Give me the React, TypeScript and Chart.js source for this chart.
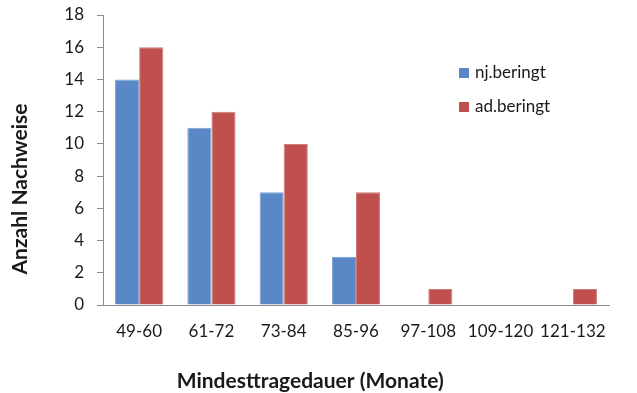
import React, { useEffect, useRef } from "react";
import { Chart, registerables } from "chart.js";

Chart.register(...registerables);

const categories = ["49-60", "61-72", "73-84", "85-96", "97-108", "109-120", "121-132"];
const njBeringt = [14, 11, 7, 3, 0, 0, 0];
const adBeringt = [16, 12, 10, 7, 1, 0, 1];
const seriesNames = ["nj.beringt", "ad.beringt"];
const yTitle = "Anzahl Nachweise";
const xTitle = "Mindesttragedauer (Monate)";

const FONT = "Lato, 'Open Sans', sans-serif";
const AXIS_GREY = "#8c8c8c";
const TEXT = "#1a1a1a";

// Axis titles and a vertical legend placed like an office chart
const decorations = {
  id: "decorations",
  afterDraw(chart: any) {
    const { ctx, width } = chart;
    ctx.save();
    ctx.fillStyle = TEXT;
    ctx.font = `bold 21px ${FONT}`;
    ctx.textAlign = "center";
    ctx.textBaseline = "middle";
    ctx.fillText(xTitle, width * 0.487, 381);

    ctx.translate(20, 189);
    ctx.rotate(-Math.PI / 2);
    ctx.fillText(yTitle, 0, 0);
    ctx.restore();

    ctx.save();
    ctx.font = `17px ${FONT}`;
    ctx.textBaseline = "middle";
    ctx.textAlign = "left";
    chart.data.datasets.forEach((ds: any, i: number) => {
      const cy = 73 + i * 34;
      ctx.fillStyle = ds.backgroundColor;
      ctx.fillRect(459, cy - 5, 10, 10);
      ctx.fillStyle = TEXT;
      ctx.fillText(ds.label, 475, cy);
    });
    ctx.restore();
  },
};

export default function App() {
  const ref = useRef<HTMLCanvasElement>(null);

  useEffect(() => {
    if (!ref.current) return;
    const chart = new Chart(ref.current, {
      type: "bar",
      data: {
        labels: categories,
        datasets: [
          {
            label: seriesNames[0],
            data: njBeringt,
            backgroundColor: "#5A87C5",
            borderColor: "#7C9FD2",
            borderWidth: 1,
          },
          {
            label: seriesNames[1],
            data: adBeringt,
            backgroundColor: "#C0504D",
            borderColor: "#D07A78",
            borderWidth: 1,
          },
        ],
      },
      options: {
        responsive: false,
        animation: false,
        layout: { padding: { top: 15, right: 28, left: 0, bottom: 0 } },
        plugins: {
          legend: { display: false },
          tooltip: { enabled: false },
        },
        datasets: {
          bar: { categoryPercentage: 0.667, barPercentage: 1.0 },
        },
        scales: {
          x: {
            grid: { display: false },
            border: { display: true, color: AXIS_GREY, width: 1 },
            ticks: {
              color: TEXT,
              font: { family: FONT, size: 17 },
              padding: 8,
              maxRotation: 0,
              autoSkip: false,
            },
            afterFit(scale: any) {
              scale.height = 88;
              scale.paddingLeft = 0;
              scale.paddingRight = 0;
            },
          },
          y: {
            min: 0,
            max: 18,
            ticks: {
              stepSize: 2,
              color: TEXT,
              font: { family: FONT, size: 17 },
              padding: 13,
            },
            grid: {
              drawOnChartArea: false,
              drawTicks: true,
              tickLength: 6,
              color: AXIS_GREY,
            },
            border: { display: true, color: AXIS_GREY, width: 1 },
            afterFit(scale: any) {
              scale.width = 103;
              scale.paddingTop = 0;
              scale.paddingBottom = 0;
            },
          },
        },
      },
      plugins: [decorations],
    });
    return () => chart.destroy();
  }, []);

  return (
    <div style={{ position: "fixed", left: 0, top: 0, width: 637, height: 393, background: "#fff" }}>
      <canvas ref={ref} width={637} height={393} style={{ display: "block" }} />
    </div>
  );
}
